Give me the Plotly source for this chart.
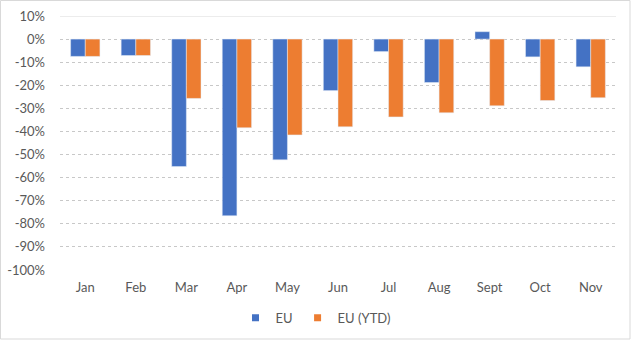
import plotly.graph_objects as go

months = ["Jan", "Feb", "Mar", "Apr", "May", "Jun", "Jul", "Aug", "Sept", "Oct", "Nov"]
eu = [-7.5, -7.1, -55.2, -76.5, -52.3, -22.3, -5.4, -18.8, 3.2, -7.7, -12.0]
eu_ytd = [-7.5, -7.1, -25.7, -38.4, -41.5, -38.0, -33.7, -31.9, -28.9, -26.6, -25.4]
y_ticks = list(range(10, -101, -10))
y_labels = [f"{v}%" for v in y_ticks]

series = [("EU", eu, "#4472C4"), ("EU (YTD)", eu_ytd, "#ED7D31")]
font_gray = "#595959"

fig = go.Figure()
for name, vals, color in series:
    fig.add_trace(go.Bar(x=months, y=vals, name=name, marker_color=color,
                         showlegend=False))
# small square legend keys
for name, vals, color in series:
    fig.add_trace(go.Scatter(x=[None], y=[None], mode="markers", name=name,
                             marker=dict(symbol="square", size=7, color=color)))

fig.update_layout(
    width=631, height=340,
    margin=dict(l=60, r=15, t=16, b=70, autoexpand=False),
    paper_bgcolor="white", plot_bgcolor="white",
    barmode="group", bargap=0.42, bargroupgap=0,
    font=dict(family="Lato, Calibri, sans-serif", size=13, color=font_gray),
    showlegend=True,
    legend=dict(orientation="h", xref="container", x=0.5, xanchor="center",
                yref="container", y=0.065, yanchor="middle",
                font=dict(size=13, color=font_gray), itemwidth=30,
                tracegroupgap=0),
    xaxis=dict(showgrid=False, showline=False, zeroline=False, ticks="",
               automargin=False, ticklabelstandoff=8),
    yaxis=dict(range=[min(y_ticks), max(y_ticks)], tickvals=y_ticks, ticktext=y_labels,
               showgrid=True, gridcolor="#C8C8C8", griddash="dot", gridwidth=1,
               zeroline=False, showline=False, ticks="", automargin=False,
               ticklabelstandoff=14),
    shapes=[
        dict(type="line", xref="paper", x0=0, x1=1, yref="y", y0=max(y_ticks), y1=max(y_ticks),
             line=dict(color="#D9D9D9", width=1), layer="below"),
        dict(type="rect", xref="paper", yref="paper", x0=-59.5/556, x1=1+14/556,
             y0=-69/254, y1=1+15.5/254, line=dict(color="#D9D9D9", width=1)),
    ],
)

fig.write_html("out.html")
